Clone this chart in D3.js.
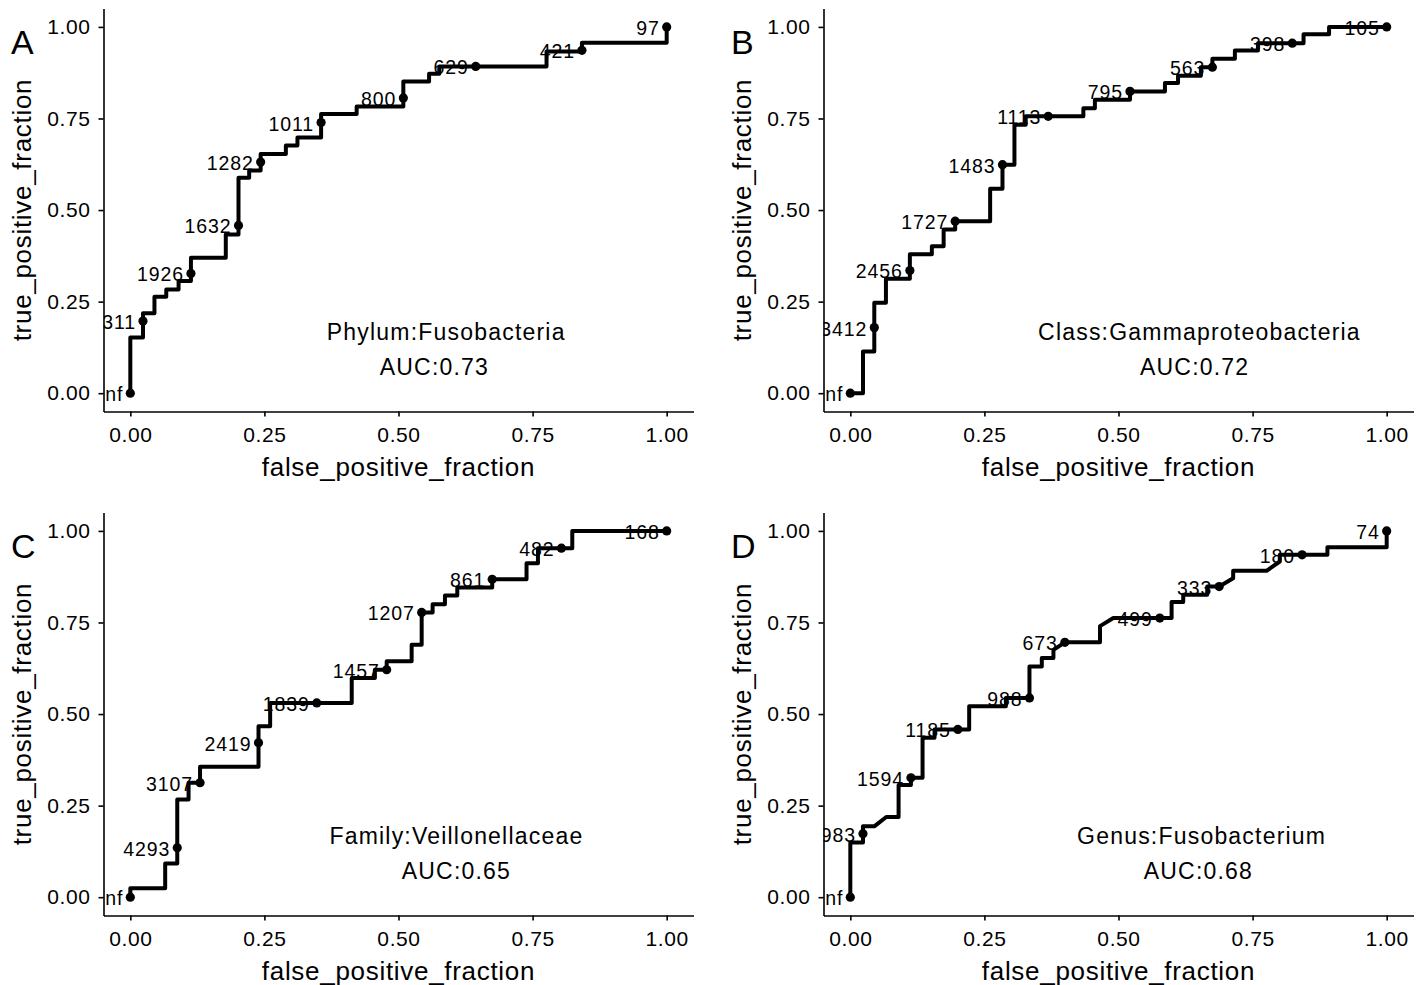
<!DOCTYPE html>
<html>
<head>
<meta charset="utf-8">
<script src="https://cdn.jsdelivr.net/npm/d3@7"></script>
<style>
  body { margin: 0; background: #fff; }
  text { font-family: "Liberation Sans", Arial, sans-serif; fill: #000; }
</style>
</head>
<body>
<svg id="chart" width="1425" height="985"></svg>
<script>
// ROC curve vertices (false / true positive fraction)
var fprA = [0, 0, 0.0236, 0.0236, 0.045, 0.045, 0.067, 0.067, 0.09, 0.09, 0.113, 0.113, 0.178, 0.178, 0.2017, 0.2017, 0.2216, 0.2216, 0.243, 0.243, 0.29, 0.29, 0.3116, 0.3116, 0.3557, 0.3557, 0.422, 0.422, 0.509, 0.509, 0.557, 0.557, 0.576, 0.576, 0.776, 0.776, 0.842, 0.842, 1, 1];
var tprA = [0, 0.152, 0.152, 0.218, 0.218, 0.263, 0.263, 0.283, 0.283, 0.306, 0.306, 0.37, 0.37, 0.433, 0.433, 0.588, 0.588, 0.608, 0.608, 0.653, 0.653, 0.676, 0.676, 0.698, 0.698, 0.762, 0.762, 0.783, 0.783, 0.851, 0.851, 0.872, 0.872, 0.892, 0.892, 0.933, 0.933, 0.957, 0.957, 1];
var cutA = ["Inf", "2311", "1926", "1632", "1282", "1011", "800", "629", "421", "97"];
var cutFprA = [0, 0.0236, 0.113, 0.2017, 0.243, 0.3557, 0.509, 0.644, 0.842, 1];
var cutTprA = [0, 0.197, 0.327, 0.458, 0.631, 0.739, 0.806, 0.892, 0.936, 1];

var fprB = [0, 0.0236, 0.0236, 0.0447, 0.0447, 0.0664, 0.0664, 0.111, 0.111, 0.152, 0.152, 0.174, 0.174, 0.1955, 0.1955, 0.2607, 0.2607, 0.2837, 0.2837, 0.306, 0.306, 0.327, 0.327, 0.4345, 0.4345, 0.456, 0.456, 0.5214, 0.5214, 0.5866, 0.5866, 0.611, 0.611, 0.6536, 0.6536, 0.675, 0.675, 0.717, 0.717, 0.76, 0.76, 0.845, 0.845, 0.8926, 0.8926, 1];
var tprB = [0, 0, 0.1135, 0.1135, 0.247, 0.247, 0.3125, 0.3125, 0.379, 0.379, 0.401, 0.401, 0.447, 0.447, 0.4696, 0.4696, 0.558, 0.558, 0.624, 0.624, 0.733, 0.733, 0.756, 0.756, 0.778, 0.778, 0.801, 0.801, 0.824, 0.824, 0.847, 0.847, 0.867, 0.867, 0.89, 0.89, 0.913, 0.913, 0.9355, 0.9355, 0.9555, 0.9555, 0.98, 0.98, 1, 1];
var cutB = ["Inf", "3412", "2456", "1727", "1483", "1113", "795", "563", "398", "105"];
var cutFprB = [0, 0.0447, 0.111, 0.1955, 0.2837, 0.369, 0.5214, 0.675, 0.824, 1];
var cutTprB = [0, 0.179, 0.335, 0.4696, 0.624, 0.756, 0.824, 0.89, 0.9555, 1];

var fprC = [0, 0, 0.065, 0.065, 0.0875, 0.0875, 0.1086, 0.1086, 0.13, 0.13, 0.239, 0.239, 0.2607, 0.2607, 0.4128, 0.4128, 0.456, 0.456, 0.478, 0.478, 0.5245, 0.5245, 0.5432, 0.5432, 0.5636, 0.5636, 0.5866, 0.5866, 0.6096, 0.6096, 0.6747, 0.6747, 0.7387, 0.7387, 0.76, 0.76, 0.824, 0.824, 1];
var tprC = [0, 0.0245, 0.0245, 0.092, 0.092, 0.267, 0.267, 0.3125, 0.3125, 0.356, 0.356, 0.467, 0.467, 0.5305, 0.5305, 0.5986, 0.5986, 0.621, 0.621, 0.644, 0.644, 0.689, 0.689, 0.7775, 0.7775, 0.8, 0.8, 0.8237, 0.8237, 0.8455, 0.8455, 0.868, 0.868, 0.912, 0.912, 0.953, 0.953, 1, 1];
var cutC = ["Inf", "4293", "3107", "2419", "1839", "1457", "1207", "861", "482", "168"];
var cutFprC = [0, 0.0875, 0.13, 0.239, 0.3476, 0.478, 0.5432, 0.6747, 0.8037, 1];
var cutTprC = [0, 0.135, 0.3125, 0.4215, 0.5305, 0.621, 0.7775, 0.868, 0.953, 1];

var fprD = [0, 0, 0.0236, 0.0236, 0.0453, 0.067, 0.09, 0.09, 0.113, 0.113, 0.1347, 0.1347, 0.157, 0.157, 0.2216, 0.2216, 0.29, 0.29, 0.334, 0.334, 0.357, 0.357, 0.3787, 0.3787, 0.4, 0.4655, 0.4655, 0.4904, 0.599, 0.599, 0.6207, 0.6207, 0.6654, 0.6654, 0.6877, 0.7138, 0.7138, 0.776, 0.8007, 0.8007, 0.8895, 0.8895, 1, 1];
var tprD = [0, 0.149, 0.149, 0.194, 0.194, 0.219, 0.219, 0.306, 0.306, 0.326, 0.326, 0.435, 0.435, 0.458, 0.458, 0.521, 0.521, 0.544, 0.544, 0.63, 0.63, 0.653, 0.653, 0.675, 0.6957, 0.6957, 0.74, 0.762, 0.762, 0.8057, 0.8057, 0.8256, 0.8256, 0.848, 0.848, 0.871, 0.891, 0.891, 0.9165, 0.9346, 0.9346, 0.9556, 0.9556, 1];
var cutD = ["Inf", "1983", "1594", "1185", "988", "673", "499", "333", "180", "74"];
var cutFprD = [0, 0.0236, 0.113, 0.2005, 0.334, 0.4, 0.577, 0.6877, 0.8423, 1];
var cutTprD = [0, 0.1735, 0.326, 0.458, 0.544, 0.6957, 0.762, 0.848, 0.9346, 1];

var panelLetters = ["A", "B", "C", "D"];
var taxa = ["Phylum:Fusobacteria", "Class:Gammaproteobacteria", "Family:Veillonellaceae", "Genus:Fusobacterium"];
var aucs = ["0.73", "0.72", "0.65", "0.68"];
var tickVals = [0, 0.25, 0.5, 0.75, 1];

// layout
var offsets = [[0, 0], [720, 0], [0, 504], [720, 504]];
var taxaX = [0.589, 0.651, 0.608, 0.655];
var aucX = [0.567, 0.642, 0.608, 0.649];

var panels = [
  {fpr: fprA, tpr: tprA, cut: cutA, cf: cutFprA, ct: cutTprA},
  {fpr: fprB, tpr: tprB, cut: cutB, cf: cutFprB, ct: cutTprB},
  {fpr: fprC, tpr: tprC, cut: cutC, cf: cutFprC, ct: cutTprC},
  {fpr: fprD, tpr: tprD, cut: cutD, cf: cutFprD, ct: cutTprD}
];

var svg = d3.select("#chart");

var panLeft = 103.5, panRight = 693.5, panTop = 8.6, panBottom = 411.5;

panels.forEach(function(p, i) {
  var g = svg.append("g")
    .attr("transform", "translate(" + offsets[i][0] + "," + offsets[i][1] + ")");

  var x = d3.scaleLinear().domain([-0.05, 1.05]).range([panLeft, panRight]);
  var y = d3.scaleLinear().domain([-0.05, 1.05]).range([panBottom, panTop]);

  var clipId = "clip" + i;
  g.append("clipPath").attr("id", clipId)
    .append("rect")
    .attr("x", panLeft).attr("y", panTop)
    .attr("width", panRight - panLeft).attr("height", panBottom - panTop);

  var plot = g.append("g").attr("clip-path", "url(#" + clipId + ")");

  var line = d3.line()
    .x(function(d) { return x(d[0]); })
    .y(function(d) { return y(d[1]); });

  plot.append("path")
    .datum(d3.zip(p.fpr, p.tpr))
    .attr("d", line)
    .attr("fill", "none")
    .attr("stroke", "#000")
    .attr("stroke-width", 4)
    .attr("stroke-linejoin", "round");

  var cuts = p.cut.map(function(c, k) { return {label: c, f: p.cf[k], t: p.ct[k]}; });

  plot.selectAll("circle")
    .data(cuts)
    .enter().append("circle")
    .attr("cx", function(d) { return x(d.f); })
    .attr("cy", function(d) { return y(d.t); })
    .attr("r", 4.6)
    .attr("fill", "#000");

  plot.selectAll("text.cut")
    .data(cuts)
    .enter().append("text")
    .attr("class", "cut")
    .attr("x", function(d) { return x(d.f) - 7; })
    .attr("y", function(d) { return y(d.t) + 1; })
    .attr("text-anchor", "end")
    .attr("dominant-baseline", "central")
    .attr("font-size", 19.5)
    .attr("letter-spacing", 0.9)
    .text(function(d) { return d.label; });

  // annotations
  g.append("text")
    .attr("x", x(taxaX[i]))
    .attr("y", y(0.166))
    .attr("text-anchor", "middle")
    .attr("dominant-baseline", "central")
    .attr("font-size", 23)
    .attr("letter-spacing", 1.2)
    .text(taxa[i]);

  g.append("text")
    .attr("x", x(aucX[i]))
    .attr("y", y(0.071))
    .attr("text-anchor", "middle")
    .attr("dominant-baseline", "central")
    .attr("font-size", 23)
    .attr("letter-spacing", 1.2)
    .text("AUC:" + aucs[i]);

  // axes
  var fmt = d3.format(".2f");
  var xAxis = g.append("g")
    .attr("transform", "translate(0," + panBottom + ")")
    .call(d3.axisBottom(x).tickValues(tickVals).tickFormat(fmt)
      .tickSize(5).tickSizeOuter(0).tickPadding(10.5));

  var yAxis = g.append("g")
    .attr("transform", "translate(" + panLeft + ",0)")
    .call(d3.axisLeft(y).tickValues(tickVals).tickFormat(fmt)
      .tickSize(5).tickSizeOuter(0).tickPadding(8));

  [xAxis, yAxis].forEach(function(ax) {
    ax.attr("font-size", 21).attr("font-family", "'Liberation Sans', Arial, sans-serif");
    ax.select(".domain").attr("stroke", "#000").attr("stroke-width", 1.6);
    ax.selectAll(".tick line").attr("stroke", "#000").attr("stroke-width", 1.6);
    ax.selectAll(".tick text")
      .attr("fill", "#000")
      .attr("letter-spacing", 0.6);
  });

  g.append("text")
    .attr("x", (panLeft + panRight) / 2)
    .attr("y", 476)
    .attr("text-anchor", "middle")
    .attr("font-size", 26)
    .attr("letter-spacing", 0.7)
    .text("false_positive_fraction");

  g.append("text")
    .attr("transform", "translate(31," + ((panTop + panBottom) / 2) + ") rotate(-90)")
    .attr("text-anchor", "middle")
    .attr("font-size", 26)
    .attr("letter-spacing", 0.7)
    .text("true_positive_fraction");

  g.append("text")
    .attr("x", 11)
    .attr("y", 54)
    .attr("font-size", 34)
    .text(panelLetters[i]);
});
</script>
</body>
</html>
